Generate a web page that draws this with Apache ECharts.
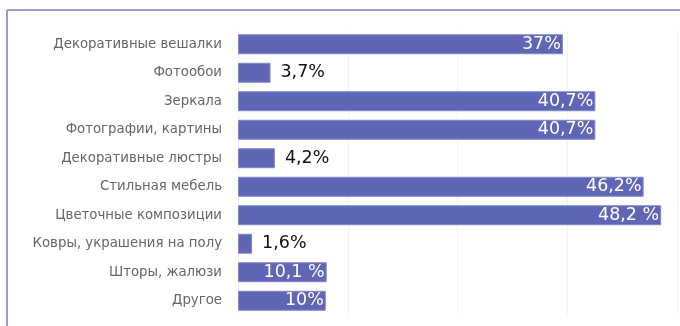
<!DOCTYPE html>
<html>
<head>
<meta charset="utf-8">
<script src="https://cdn.jsdelivr.net/npm/echarts@6/dist/echarts.min.js"></script>
<style>
html,body{margin:0;padding:0;background:#fff;}
#chart{width:680px;height:326px;}
</style>
</head>
<body>
<div id="chart"></div>
<script>
var categories = ["Декоративные вешалки","Фотообои","Зеркала","Фотографии, картины","Декоративные люстры","Стильная мебель","Цветочные композиции","Ковры, украшения на полу","Шторы, жалюзи","Другое"];
var values = [37, 3.7, 40.7, 40.7, 4.2, 46.2, 48.2, 1.6, 10.1, 10];
var valueLabels = ["37%","3,7%","40,7%","40,7%","4,2%","46,2%","48,2 %","1,6%","10,1 %","10%"];

var chart = echarts.init(document.getElementById('chart'), null, {renderer:'canvas'});
var barColor = '#5f66b6';
var data = values.map(function(v, i){
  var inside = v >= 8;
  return {
    value: v,
    label: {
      show: true,
      position: inside ? 'insideRight' : 'right',
      distance: inside ? 2 : 10,
      color: inside ? '#ffffff' : '#111111',
      fontSize: 17.5,
      fontFamily: 'DejaVu Sans, sans-serif',
      formatter: function(){ return valueLabels[i]; }
    }
  };
});
chart.setOption({
  animation: false,
  grid: {left: 238, right: 3, top: 30, bottom: 11, containLabel: false},
  xAxis: {
    type: 'value', min: 0, max: 50, interval: 12.5,
    axisLine: {show:false}, axisTick:{show:false}, axisLabel:{show:false},
    splitLine: {show: true, lineStyle: {color: '#f3f3f3', width: 1}}
  },
  yAxis: {
    type: 'category', data: categories, inverse: true,
    axisLine: {show:false}, axisTick:{show:false},
    axisLabel: {color:'#666666', fontSize: 13.3, margin: 16, fontFamily: 'DejaVu Sans, sans-serif'}
  },
  series: [{
    type: 'bar', data: data, barCategoryGap: '30%',
    itemStyle: {color: barColor, borderColor: '#8087c8', borderWidth: 1}
  }],
  graphic: [
    {type:'line', shape:{x1:7, y1:10, x2:680, y2:10}, style:{stroke:'#9c9cd2', lineWidth:2}},
    {type:'line', shape:{x1:7, y1:10, x2:7, y2:326}, style:{stroke:'#9c9cd2', lineWidth:2}}
  ]
});
</script>
</body>
</html>
